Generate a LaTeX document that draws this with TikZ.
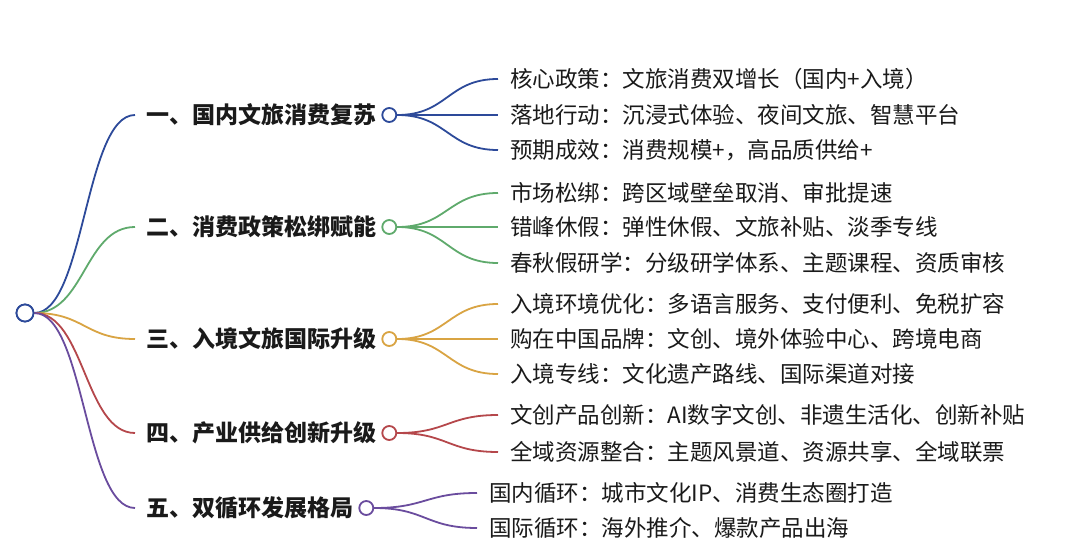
\documentclass[tikz,border=0pt]{standalone}
\usepackage{fontspec}
\setmainfont{Noto Sans CJK SC}
\usetikzlibrary{calc}
\definecolor{cblue}{HTML}{2D4A9A}
\definecolor{cgreen}{HTML}{5FAA6C}
\definecolor{corange}{HTML}{D9A443}
\definecolor{cred}{HTML}{B5474B}
\definecolor{cpurple}{HTML}{6A4C9E}
\definecolor{ctext}{HTML}{1A1A1A}
\newcommand\lnk[3]{\draw[#1] let \p1=(#2), \p2=(#3) in (\p1) .. controls ({(\x1+\x2)/2},\y1) and ({(\x1+\x2)/2},\y2) .. (\p2);}
\tikzset{
  wire/.style={line width=1.8pt},
  rootc/.style={circle, draw=cblue, line width=1.8pt, fill=white, minimum size=17pt, inner sep=0pt},
  bcirc/.style={circle, line width=1.8pt, fill=white, minimum size=14pt, inner sep=0pt, anchor=west},
  branch/.style={anchor=west, inner xsep=11pt, inner ysep=0pt, font=\fontsize{23}{26}\selectfont\bfseries, text=ctext},
  leaf/.style={anchor=west, inner xsep=12pt, inner ysep=0pt, font=\fontsize{22.5}{26}\selectfont, text=ctext},
}
\begin{document}
\begin{tikzpicture}[x=1pt,y=-1pt]
\useasboundingbox (0,0) rectangle (1080,554);
\fill[white] (0,0) rectangle (1080,554);

% branches
\node[branch] (b1) at (135,115) {一、国内文旅消费复苏};
\node[branch] (b2) at (135,227) {二、消费政策松绑赋能};
\node[branch] (b3) at (135,339) {三、入境文旅国际升级};
\node[branch] (b4) at (135,433) {四、产业供给创新升级};
\node[branch] (b5) at (135,508) {五、双循环发展格局};

\node[bcirc, draw=cblue] (c1) at ([xshift=-6pt]b1.east) {};
\node[bcirc, draw=cgreen] (c2) at ([xshift=-6pt]b2.east) {};
\node[bcirc, draw=corange] (c3) at ([xshift=-6pt]b3.east) {};
\node[bcirc, draw=cred] (c4) at ([xshift=-6pt]b4.east) {};
\node[bcirc, draw=cpurple] (c5) at ([xshift=-6pt]b5.east) {};

% leaves
\node[leaf] (l11) at (498,79) {核心政策：文旅消费双增长（国内+入境）};
\node[leaf] (l12) at (498,115) {落地行动：沉浸式体验、夜间文旅、智慧平台};
\node[leaf] (l13) at (498,150) {预期成效：消费规模+，高品质供给+};
\node[leaf] (l21) at (498,193) {市场松绑：跨区域壁垒取消、审批提速};
\node[leaf] (l22) at (498,227) {错峰休假：弹性休假、文旅补贴、淡季专线};
\node[leaf] (l23) at (498,263) {春秋假研学：分级研学体系、主题课程、资质审核};
\node[leaf] (l31) at (498,304) {入境环境优化：多语言服务、支付便利、免税扩容};
\node[leaf] (l32) at (498,339) {购在中国品牌：文创、境外体验中心、跨境电商};
\node[leaf] (l33) at (498,374) {入境专线：文化遗产路线、国际渠道对接};
\node[leaf] (l41) at (498,415) {文创产品创新：AI数字文创、非遗生活化、创新补贴};
\node[leaf] (l42) at (498,452) {全域资源整合：主题风景道、资源共享、全域联票};
\node[leaf] (l51) at (477,493) {国内循环：城市文化IP、消费生态圈打造};
\node[leaf] (l52) at (477,528) {国际循环：海外推介、爆款产品出海};

% root
\node[rootc] (root) at (25,313) {};

% root links
\lnk{wire,cblue}{root.east}{b1.west}
\lnk{wire,cgreen}{root.east}{b2.west}
\lnk{wire,corange}{root.east}{b3.west}
\lnk{wire,cred}{root.east}{b4.west}
\lnk{wire,cpurple}{root.east}{b5.west}

% leaf links
\lnk{wire,cblue}{c1.east}{l11.west}
\lnk{wire,cblue}{c1.east}{l12.west}
\lnk{wire,cblue}{c1.east}{l13.west}
\lnk{wire,cgreen}{c2.east}{l21.west}
\lnk{wire,cgreen}{c2.east}{l22.west}
\lnk{wire,cgreen}{c2.east}{l23.west}
\lnk{wire,corange}{c3.east}{l31.west}
\lnk{wire,corange}{c3.east}{l32.west}
\lnk{wire,corange}{c3.east}{l33.west}
\lnk{wire,cred}{c4.east}{l41.west}
\lnk{wire,cred}{c4.east}{l42.west}
\lnk{wire,cpurple}{c5.east}{l51.west}
\lnk{wire,cpurple}{c5.east}{l52.west}

% redraw root circle on top
\node[rootc] at (root) {};
\end{tikzpicture}
\end{document}
